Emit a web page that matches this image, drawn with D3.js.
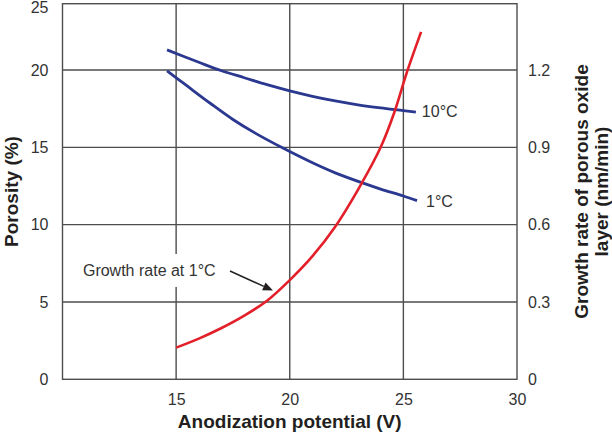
<!DOCTYPE html>
<html><head><meta charset="utf-8">
<script src="https://cdn.jsdelivr.net/npm/d3@7"></script>
<style>
html,body{margin:0;padding:0;background:#fff;}
svg{display:block;font-family:"Liberation Sans",Arial,Helvetica,sans-serif;}
</style></head>
<body>
<svg id="chart" width="612" height="433"></svg>
<script>
// ---- data ----
const xTicks = [15, 20, 25, 30];
const yLeftTicks = [0, 5, 10, 15, 20, 25];
const yRightTicks = [0, 0.3, 0.6, 0.9, 1.2];
const xGrid = [15, 20, 25];
const yGrid = [5, 10, 15, 20];

// Porosity (%) vs anodization potential (V)
const v10C = [14.6, 16, 17, 18, 19, 20, 21, 22, 23, 24, 25, 25.55];
const porosity10C = [21.3, 20.5, 19.95, 19.5, 19.05, 18.65, 18.3, 18.0, 17.75, 17.55, 17.38, 17.28];
const v1C = [14.6, 15.5, 16.5, 17.5, 18.5, 19.7, 21, 22, 23.2, 24, 25, 25.6];
const porosity1C = [19.95, 18.95, 17.85, 16.8, 15.9, 14.95, 14.0, 13.35, 12.7, 12.3, 11.85, 11.55];

// Growth rate (nm/min) at 1°C
const vGrowth = [15, 16, 17, 18, 19, 20, 21, 22, 23, 24, 24.6, 25.15, 25.78];
const growthRate = [0.123, 0.158, 0.199, 0.247, 0.305, 0.385, 0.478, 0.592, 0.735, 0.9, 1.035, 1.19, 1.348];

const seriesLabels = ["10°C", "1°C"];
const annotationText = "Growth rate at 1°C";
const annotationPos = [10.9, 6.68];          // text start (V, %)
const arrowFrom = [17.37, 7.0];              // (V, %)
const arrowTo = [19.26, 5.74];               // (V, %)

// ---- layout ----
const svg = d3.select("#chart");
const L = 62.5, R = 517, T = 3.7, B = 379.3;
const topVal = 20 + (70 - T) / ((B - 70) / 20); // porosity value at the top frame
const x = d3.scaleLinear().domain([10, 30]).range([L, R]);
const yL = d3.scaleLinear().domain([0, topVal]).range([B, T]).clamp(true);
const yR = d3.scaleLinear().domain([0, topVal * 0.06]).range([B, T]).clamp(true);

const gridColor = "#4d4d4d";
const textColor = "#333";
const blue = "#2b3890";
const red = "#e3202a";

svg.append("rect").attr("width", 612).attr("height", 433).attr("fill", "#fff");

// grid
const g = svg.append("g");
g.selectAll(".vg").data(xGrid).join("line")
  .attr("x1", d => x(d)).attr("x2", d => x(d)).attr("y1", T).attr("y2", B)
  .attr("stroke", gridColor).attr("stroke-width", 1.4);
g.selectAll(".hg").data(yGrid).join("line")
  .attr("x1", L).attr("x2", R).attr("y1", d => yL(d)).attr("y2", d => yL(d))
  .attr("stroke", gridColor).attr("stroke-width", 1.4);

// axes (labels only)
function styleAxis(sel) {
  sel.select(".domain").remove();
  sel.selectAll(".tick line").remove();
  sel.selectAll("text").attr("fill", textColor).style("font-size", "16px")
    .style("font-family", '"Liberation Sans",Arial,sans-serif');
}
svg.append("g").attr("transform", `translate(0,${B})`)
  .call(d3.axisBottom(x).tickValues(xTicks).tickSize(0).tickPadding(14).tickFormat(d3.format("d")))
  .call(styleAxis);
const leftAx = svg.append("g").attr("transform", `translate(${L},0)`)
  .call(d3.axisLeft(yL).tickValues(yLeftTicks).tickSize(0).tickPadding(14).tickFormat(d3.format("d")))
  .call(styleAxis);
leftAx.selectAll(".tick").filter(d => d > topVal).select("text").attr("dy", "0.55em");
svg.append("g").attr("transform", `translate(${R},0)`)
  .call(d3.axisRight(yR).tickValues(yRightTicks).tickSize(0).tickPadding(11)
    .tickFormat(d => d === 0 ? "0" : d3.format(".1f")(d)))
  .call(styleAxis);

// frame
svg.append("rect").attr("x", L).attr("y", T).attr("width", R - L).attr("height", B - T)
  .attr("fill", "none").attr("stroke", gridColor).attr("stroke-width", 1.4);

// annotation label with white background
const ann = svg.append("g");
const annText = ann.append("text")
  .attr("x", x(annotationPos[0])).attr("y", yL(annotationPos[1]))
  .attr("fill", textColor).style("font-size", "16px").text(annotationText);
const bb = annText.node().getBBox();
ann.insert("rect", "text").attr("x", bb.x - 6).attr("y", bb.y - 8)
  .attr("width", bb.width + 12).attr("height", bb.height + 16).attr("fill", "#fff");

// curves
const line = (xs, ys, ysc) => d3.line().curve(d3.curveCatmullRom.alpha(0.5))
  .x((d, i) => x(xs[i])).y((d, i) => ysc(ys[i]))(xs);

svg.append("path").attr("d", line(v10C, porosity10C, yL))
  .attr("fill", "none").attr("stroke", blue).attr("stroke-width", 2.8);
svg.append("path").attr("d", line(v1C, porosity1C, yL))
  .attr("fill", "none").attr("stroke", blue).attr("stroke-width", 2.8);
svg.append("path").attr("d", line(vGrowth, growthRate, yR))
  .attr("fill", "none").attr("stroke", red).attr("stroke-width", 2.6);

// series labels
svg.append("text").attr("x", x(v10C[v10C.length - 1]) + 6).attr("y", yL(porosity10C[porosity10C.length - 1]) + 5)
  .attr("fill", textColor).style("font-size", "16px").text(seriesLabels[0]);
svg.append("text").attr("x", x(v1C[v1C.length - 1]) + 9).attr("y", yL(porosity1C[porosity1C.length - 1]) + 6)
  .attr("fill", textColor).style("font-size", "16px").text(seriesLabels[1]);

// arrow
const ax1 = x(arrowFrom[0]), ay1 = yL(arrowFrom[1]), ax2 = x(arrowTo[0]), ay2 = yL(arrowTo[1]);
const ang = Math.atan2(ay2 - ay1, ax2 - ax1);
const hl = 10, hw = 4.2;
const bx = ax2 - hl * Math.cos(ang), by = ay2 - hl * Math.sin(ang);
svg.append("line").attr("x1", ax1).attr("y1", ay1).attr("x2", bx).attr("y2", by)
  .attr("stroke", "#231f20").attr("stroke-width", 1.5);
svg.append("path")
  .attr("d", `M${ax2},${ay2}L${bx + hw * Math.sin(ang)},${by - hw * Math.cos(ang)}L${bx - hw * Math.sin(ang)},${by + hw * Math.cos(ang)}Z`)
  .attr("fill", "#231f20");

// titles
const titleStyle = s => s.attr("fill", "#231f20").style("font-size", "19px").style("font-weight", "bold");
svg.append("text").attr("x", (L + R) / 2).attr("y", 428).attr("text-anchor", "middle")
  .call(titleStyle).text("Anodization potential (V)");
svg.append("text").attr("transform", `translate(18,${(T + B) / 2}) rotate(-90)`).attr("text-anchor", "middle")
  .call(titleStyle).text("Porosity (%)");
svg.append("text").attr("transform", `translate(588,${(T + B) / 2}) rotate(-90)`).attr("text-anchor", "middle")
  .call(titleStyle).text("Growth rate of porous oxide");
svg.append("text").attr("transform", `translate(608,${(T + B) / 2}) rotate(-90)`).attr("text-anchor", "middle")
  .call(titleStyle).text("layer (nm/min)");
</script>
</body></html>
